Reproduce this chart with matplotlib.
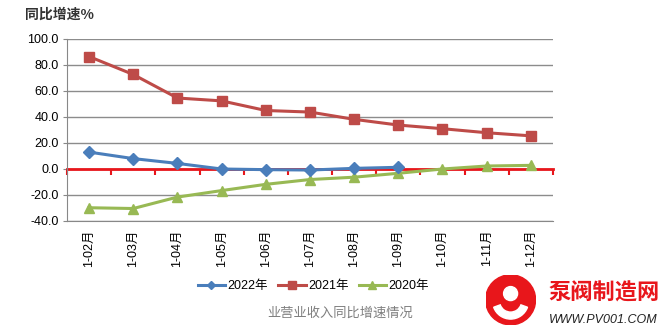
import matplotlib
matplotlib.use('Agg')
import matplotlib.pyplot as plt
import matplotlib.ticker as mtick
from matplotlib.patches import Circle, Wedge

plt.rcParams['font.family'] = ['Liberation Sans', 'Noto Sans CJK SC', 'DejaVu Sans']

months = ['1-02月', '1-03月', '1-04月', '1-05月', '1-06月', '1-07月',
          '1-08月', '1-09月', '1-10月', '1-11月', '1-12月']
y2022 = [13.0, 8.0, 4.3, 0.0, -0.5, -0.8, 0.5, 1.3]
y2021 = [86.5, 72.7, 54.6, 52.4, 45.0, 43.8, 38.2, 33.8, 31.0, 27.9, 25.5]
y2020 = [-29.8, -30.4, -21.6, -16.6, -11.8, -8.1, -6.3, -3.3, 0.0, 2.3, 2.8]

fig = plt.figure(figsize=(6.67, 3.35), dpi=100)
ax = fig.add_axes([0.1004, 0.3403, 0.7286, 0.5433])

x = list(range(len(months)))
l1, = ax.plot(x[:len(y2022)], y2022, color='#4A7EBB', lw=2.2, marker='D', ms=6,
              label='2022年', zorder=4)
l2, = ax.plot(x, y2021, color='#BE4B48', lw=2.2, marker='s', ms=7.5,
              label='2021年', zorder=3)
l3, = ax.plot(x, y2020, color='#98B954', lw=2.2, marker='^', ms=7.5,
              label='2020年', zorder=3)

ax.set_xlim(-0.5, len(months) - 0.5)
ax.set_ylim(-40, 100)
ax.set_yticks(range(-40, 101, 20))
ax.yaxis.set_major_formatter(mtick.FormatStrFormatter('%.1f'))
ax.tick_params(axis='y', labelsize=9, length=3, color='#888888', pad=3)
ax.grid(axis='y', color='#8c8c8c', lw=1)
ax.set_axisbelow(True)

# red zero axis with boundary ticks
ax.spines['bottom'].set_position(('data', 0))
ax.spines['bottom'].set_color('#E8161B')
ax.spines['bottom'].set_linewidth(2)
ax.spines['bottom'].set_zorder(2)
ax.set_xticks([i - 0.5 for i in range(len(months) + 1)])
ax.set_xticklabels([])
ax.tick_params(axis='x', colors='#E8161B', length=4, width=1.5, direction='out')
ax.spines['top'].set_visible(False)
ax.spines['right'].set_visible(False)
ax.spines['left'].set_color('#888888')

# category labels along the bottom
sec = ax.secondary_xaxis('bottom')
sec.set_xticks(x)
sec.set_xticklabels(months, rotation=90, fontsize=9)
sec.tick_params(length=0, pad=6)
sec.spines['bottom'].set_color('#888888')

fig.text(0.037, 0.955, '同比增速%', fontsize=10, fontweight='bold',
         family=['Noto Sans CJK SC'], color='#333333', va='center')

fig.legend(handles=[l1, l2, l3], loc='center', bbox_to_anchor=(0.47, 0.145),
           ncol=3, frameon=False, fontsize=9, handlelength=2.2,
           columnspacing=0.8, handletextpad=0.2, markerscale=0.7)

fig.text(0.51, 0.065, '业营业收入同比增速情况', fontsize=9.5, color='#7f7f7f',
         ha='center', va='center', family=['Noto Sans CJK SC'])

# watermark
fig.text(0.905, 0.125, '泵阀制造网', fontsize=16, fontweight='bold', color='#E8161B',
         ha='center', va='center', family=['Noto Sans CJK SC'])
fig.text(0.905, 0.045, 'WWW.PV001.COM', fontsize=9, style='italic', color='#222222',
         ha='center', va='center')
logo = fig.add_axes([0.728, 0.03, 0.075, 0.15])
logo.set_xlim(-1, 1)
logo.set_ylim(-1, 1)
logo.set_aspect('equal')
logo.axis('off')
logo.add_patch(Circle((0, 0), 1, color='#E8161B'))
logo.add_patch(Wedge((0, -0.05), 0.72, 200, 340, width=0.28, color='white'))
logo.add_patch(Circle((0, 0.25), 0.28, color='white'))

fig.savefig('out.png', dpi=100)
